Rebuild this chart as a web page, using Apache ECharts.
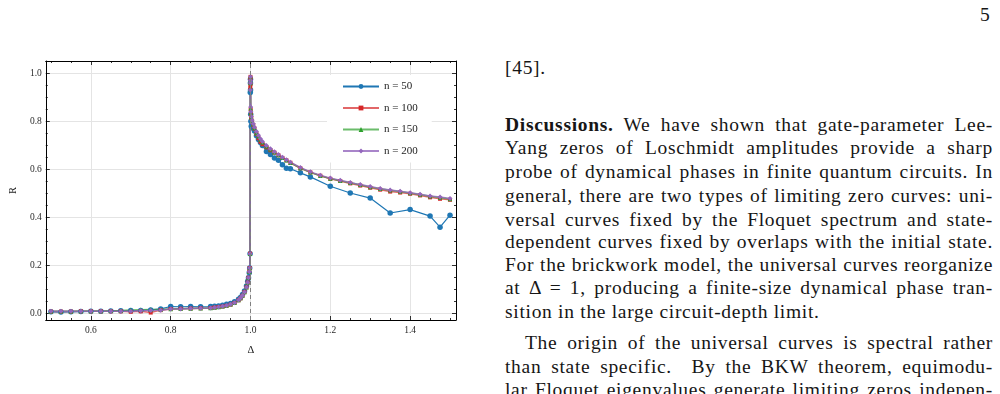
<!DOCTYPE html>
<html lang="en">
<head>
<meta charset="UTF-8">
<title>R vs Delta</title>
<script src="https://cdn.jsdelivr.net/npm/echarts@6/dist/echarts.min.js"></script>
<style>
  body { margin: 0; width: 1000px; height: 394px; overflow: hidden; background: #fff; font-family: "Liberation Serif", serif; }
  #chart { position: absolute; left: 0; top: 0; width: 480px; height: 394px; }
  .txt { position: absolute; color: #161616; font-size: 19.5px; line-height: 24px; white-space: nowrap; letter-spacing: 0.7px; }
  .ln { left: 505px; width: 488px; text-align: justify; text-align-last: justify; }
  .last { text-align-last: left; }
</style>
</head>
<body>
<div id="chart"></div>

<div class="txt" style="left:980px; top:3px;">5</div>
<div class="txt" style="left:505px; top:56px;">[45].</div>
<div class="txt ln" style="top:113px;"><b>Discussions.</b> We have shown that gate-parameter Lee-</div>
<div class="txt ln" style="top:136px;">Yang zeros of Loschmidt amplitudes provide a sharp</div>
<div class="txt ln" style="top:160px;">probe of dynamical phases in finite quantum circuits. In</div>
<div class="txt ln" style="top:184px;">general, there are two types of limiting zero curves: uni-</div>
<div class="txt ln" style="top:208px;">versal curves fixed by the Floquet spectrum and state-</div>
<div class="txt ln" style="top:230px;">dependent curves fixed by overlaps with the initial state.</div>
<div class="txt ln" style="top:253px;">For the brickwork model, the universal curves reorganize</div>
<div class="txt ln" style="top:276px;">at &Delta; = 1, producing a finite-size dynamical phase tran-</div>
<div class="txt ln last" style="top:300px;">sition in the large circuit-depth limit.</div>
<div class="txt ln" style="top:331px; left:525px; width:468px;">The origin of the universal curves is spectral rather</div>
<div class="txt ln" style="top:355px;">than state specific.&nbsp; By the BKW theorem, equimodu-</div>
<div class="txt ln" style="top:378px;">lar Floquet eigenvalues generate limiting zeros indepen-</div>

<script>
  // sample points (Delta) shared by the lower branch
  const deltaLow = [0.5, 0.525, 0.55, 0.575, 0.6, 0.625, 0.65, 0.675, 0.7, 0.725, 0.75, 0.775, 0.8, 0.825, 0.85, 0.875, 0.9,
    0.91, 0.92, 0.93, 0.94, 0.95, 0.96, 0.97, 0.975, 0.98, 0.985, 0.99, 0.993, 0.995, 0.997, 0.998, 0.999, 0.9995, 0.9999, 1.0];
  // just above the transition
  const deltaMid = [1.0001, 1.0005, 1.001, 1.002, 1.004, 1.007, 1.01, 1.015, 1.02, 1.025, 1.03, 1.04, 1.05, 1.06, 1.07, 1.08, 1.09, 1.1];
  // tails
  const deltaTail = [1.125, 1.15, 1.175, 1.2, 1.225, 1.25, 1.275, 1.3, 1.325, 1.35, 1.375, 1.4, 1.425, 1.45, 1.475, 1.5];
  const deltaTail50 = [1.125, 1.15, 1.2, 1.25, 1.3, 1.35, 1.4, 1.45, 1.475, 1.5];

  // n = 50
  const r50Low = [0.008, 0.007, 0.008, 0.009, 0.010, 0.010, 0.011, 0.012, 0.013, 0.014, 0.016, 0.020, 0.030, 0.029, 0.030, 0.029, 0.030,
    0.031, 0.032, 0.035, 0.040, 0.043, 0.050, 0.060, 0.068, 0.080, 0.095, 0.115, 0.135, 0.150, 0.170, 0.190, 0.250, 0.920, 0.960, 0.975];
  const r50Mid = [0.930, 0.830, 0.800, 0.780, 0.775, 0.770, 0.760, 0.740, 0.725, 0.712, 0.700, 0.675, 0.662, 0.648, 0.638, 0.620, 0.605, 0.603];
  const r50Tail = [0.586, 0.569, 0.530, 0.502, 0.481, 0.419, 0.433, 0.406, 0.360, 0.410];

  // n = 100
  const r100Low = [0.009, 0.009, 0.009, 0.010, 0.010, 0.010, 0.010, 0.010, 0.008, 0.010, 0.005, 0.015, 0.020, 0.021, 0.022, 0.023, 0.024,
    0.026, 0.028, 0.030, 0.033, 0.038, 0.045, 0.056, 0.064, 0.075, 0.090, 0.110, 0.130, 0.150, 0.175, 0.190, 0.250, 0.940, 0.975, 0.985];
  const r100Mid = [0.955, 0.850, 0.830, 0.815, 0.800, 0.785, 0.770, 0.748, 0.730, 0.715, 0.705, 0.692, 0.680, 0.670, 0.659, 0.648, 0.638, 0.628];
  const r100Tail = [0.605, 0.588, 0.574, 0.561, 0.552, 0.542, 0.533, 0.524, 0.516, 0.508, 0.504, 0.499, 0.492, 0.484, 0.478, 0.474];

  // n = 150
  const r150Low = [0.010, 0.010, 0.010, 0.011, 0.011, 0.011, 0.012, 0.013, 0.016, 0.017, 0.018, 0.018, 0.020, 0.021, 0.022, 0.023, 0.024,
    0.026, 0.028, 0.031, 0.034, 0.039, 0.046, 0.057, 0.065, 0.076, 0.090, 0.110, 0.130, 0.150, 0.175, 0.190, 0.250, 0.935, 0.970, 0.988];
  const r150Mid = [0.960, 0.855, 0.835, 0.818, 0.803, 0.788, 0.772, 0.752, 0.738, 0.725, 0.713, 0.697, 0.684, 0.672, 0.660, 0.649, 0.638, 0.628];
  const r150Tail = [0.606, 0.588, 0.574, 0.562, 0.553, 0.545, 0.536, 0.527, 0.520, 0.514, 0.508, 0.502, 0.496, 0.489, 0.483, 0.477];

  // n = 200
  const r200Low = [0.010, 0.010, 0.010, 0.010, 0.010, 0.010, 0.010, 0.010, 0.010, 0.012, 0.014, 0.015, 0.020, 0.020, 0.022, 0.023, 0.024,
    0.026, 0.028, 0.031, 0.034, 0.039, 0.046, 0.057, 0.065, 0.076, 0.090, 0.110, 0.130, 0.150, 0.175, 0.190, 0.250, 0.930, 0.970, 0.985];
  const r200Mid = [0.960, 0.860, 0.840, 0.820, 0.805, 0.790, 0.775, 0.758, 0.742, 0.728, 0.716, 0.700, 0.686, 0.674, 0.662, 0.651, 0.640, 0.630];
  const r200Tail = [0.608, 0.590, 0.576, 0.564, 0.555, 0.546, 0.537, 0.529, 0.521, 0.515, 0.509, 0.503, 0.497, 0.490, 0.485, 0.479];

  const seriesNames = ['n = 50', 'n = 100', 'n = 150', 'n = 200'];

  function pairs(xs, ys) {
    return xs.map((x, i) => [x, ys[i]]);
  }

  const font = 'Liberation Serif';
  const xMin = 0.487, xMax = 1.515, yMin = -0.026, yMax = 1.051;

  const baseAxis = {
    type: 'value',
    splitNumber: 5,
    axisLine: { show: true, onZero: false, lineStyle: { color: '#000', width: 1 } },
    axisTick: { show: true, inside: true, length: 4, lineStyle: { color: '#000', width: 0.8 } },
    minorTick: { show: true, splitNumber: 4, length: 2, lineStyle: { color: '#000', width: 0.8 } },
    splitLine: { show: false }
  };

  const labelStyle = { fontFamily: font, fontSize: 9.5, color: '#2a2a2a' };

  const chart = echarts.init(document.getElementById('chart'));

  const option = {
    animation: false,
    grid: { left: 40, top: 61, width: 416, height: 259 },
    legend: {
      orient: 'vertical',
      left: 327,
      top: 75,
      padding: [6, 14, 6, 15],
      itemWidth: 36,
      itemHeight: 6,
      itemGap: 10.5,
      backgroundColor: '#fff',
      textStyle: { fontFamily: font, fontSize: 11, color: '#222' },
      data: seriesNames
    },
    xAxis: [
      Object.assign({}, baseAxis, {
        min: xMin, max: xMax, position: 'bottom',
        splitLine: { show: true, lineStyle: { color: '#e4e4e4', width: 1 } },
        axisLabel: Object.assign({ showMinLabel: false, showMaxLabel: false, margin: 5, formatter: v => v.toFixed(1) }, labelStyle),
        name: 'Δ', nameLocation: 'middle', nameGap: 25,
        nameTextStyle: { fontFamily: font, fontSize: 10.5, color: '#222' }
      }),
      Object.assign({}, baseAxis, { min: xMin, max: xMax, position: 'top', axisLabel: { show: false } })
    ],
    yAxis: [
      Object.assign({}, baseAxis, {
        min: yMin, max: yMax, position: 'left',
        splitLine: { show: true, lineStyle: { color: '#e4e4e4', width: 1 } },
        axisLabel: Object.assign({ showMinLabel: false, showMaxLabel: false, margin: 4, formatter: v => v.toFixed(1) }, labelStyle),
        name: 'R', nameLocation: 'middle', nameGap: 26,
        nameTextStyle: { fontFamily: font, fontSize: 10.5, color: '#222' }
      }),
      Object.assign({}, baseAxis, { min: yMin, max: yMax, position: 'right', axisLabel: { show: false } })
    ],
    series: [
      {
        name: seriesNames[0], type: 'line', xAxisIndex: 0, yAxisIndex: 0,
        data: pairs(deltaLow.concat(deltaMid, deltaTail50), r50Low.concat(r50Mid, r50Tail)),
        symbol: 'circle', symbolSize: 5.5, showAllSymbol: true,
        lineStyle: { color: '#1f77b4', width: 1.2 },
        itemStyle: { color: '#1f77b4' },
        markLine: {
          silent: true, symbol: 'none', label: { show: false },
          lineStyle: { color: '#808080', type: [4, 3], width: 1 },
          data: [{ xAxis: 1 }]
        }
      },
      {
        name: seriesNames[1], type: 'line',
        data: pairs(deltaLow.concat(deltaMid, deltaTail), r100Low.concat(r100Mid, r100Tail)),
        symbol: 'rect', symbolSize: 4, showAllSymbol: true,
        lineStyle: { color: '#d62728', width: 1.5, opacity: 0.7 },
        itemStyle: { color: '#d62728' }
      },
      {
        name: seriesNames[2], type: 'line',
        data: pairs(deltaLow.concat(deltaMid, deltaTail), r150Low.concat(r150Mid, r150Tail)),
        symbol: 'triangle', symbolSize: 4.5, showAllSymbol: true,
        lineStyle: { color: '#2ca02c', width: 1.5, opacity: 0.7 },
        itemStyle: { color: '#2ca02c' }
      },
      {
        name: seriesNames[3], type: 'line',
        data: pairs(deltaLow.concat(deltaMid, deltaTail), r200Low.concat(r200Mid, r200Tail)),
        symbol: 'diamond', symbolSize: 5, showAllSymbol: true,
        lineStyle: { color: '#9467bd', width: 1.5, opacity: 0.8 },
        itemStyle: { color: '#9467bd' }
      }
    ]
  };

  chart.setOption(option);
</script>
</body>
</html>
